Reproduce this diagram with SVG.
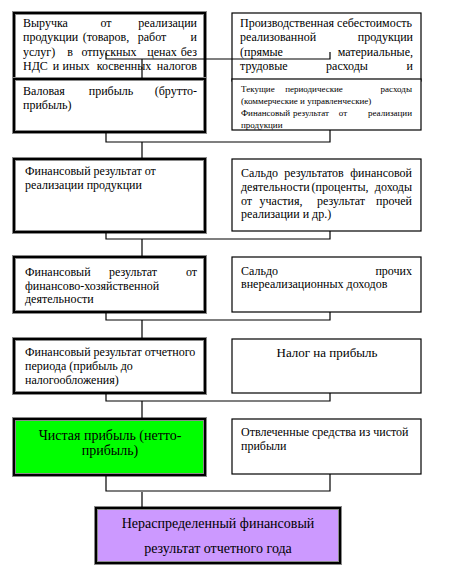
<svg xmlns="http://www.w3.org/2000/svg" width="453" height="586" viewBox="0 0 453 586">
<style>
.t{font-family:"Liberation Serif","Times New Roman",serif;font-size:12px;fill:#000}
.s{font-family:"Liberation Serif","Times New Roman",serif;font-size:9px;fill:#000}
.e{text-anchor:end}
.m{text-anchor:middle}
.thkO{fill:none;stroke:#8a8a8a;stroke-width:4}
.thkI{fill:none;stroke:#000;stroke-width:2}
.thin{fill:#fff;stroke:#000;stroke-width:1.2}
.w{fill:#fff}
.c{fill:none;stroke:#000;stroke-width:1.2}
</style>
<rect width="453" height="586" fill="#fff"/>

<g id="n1">
<rect class="w" x="14" y="13" width="191" height="68"/>
<rect class="thkO" x="14" y="13" width="191" height="68"/>
<rect class="thkI" x="14" y="13" width="191" height="68"/>
<text class="t" y="27"><tspan x="23">Выручка</tspan><tspan x="106" class="m">от</tspan><tspan x="197" class="e">реализации</tspan></text>
<text class="t" y="41"><tspan x="23">продукции</tspan><tspan x="106" class="m">(товаров,</tspan><tspan x="152" class="m">работ</tspan><tspan x="197" class="e">и</tspan></text>
<text class="t" y="56"><tspan x="23">услуг)</tspan><tspan x="70" class="m">в</tspan><tspan x="109" class="m">отпускных</tspan><tspan x="162" class="m">ценах</tspan><tspan x="197" class="e">без</tspan></text>
<text class="t" y="70"><tspan x="23">НДС</tspan><tspan x="56" class="m">и</tspan><tspan x="76" class="m">иных</tspan><tspan x="124" class="m">косвенных</tspan><tspan x="197" class="e">налогов</tspan></text>
</g>

<g id="r1">
<rect class="thin" x="232" y="13" width="189" height="68"/>
<text class="t" y="27" textLength="172" lengthAdjust="spacing"><tspan x="240">Производственная себестоимость</tspan></text>
<text class="t" y="41"><tspan x="240">реализованной</tspan><tspan x="413" class="e">продукции</tspan></text>
<text class="t" y="56"><tspan x="240">(прямые</tspan><tspan x="413" class="e">материальные,</tspan></text>
<text class="t" y="70"><tspan x="240">трудовые</tspan><tspan x="347" class="m">расходы</tspan><tspan x="413" class="e">и</tspan></text>
</g>

<g id="n2">
<rect class="w" x="14" y="79" width="191" height="53"/>
<rect class="thkO" x="14" y="79" width="191" height="53"/>
<rect class="thkI" x="14" y="79" width="191" height="53"/>
<text class="t" y="95"><tspan x="23">Валовая</tspan><tspan x="111" class="m">прибыль</tspan><tspan x="197" class="e">(брутто-</tspan></text>
<text class="t" y="109"><tspan x="23">прибыль)</tspan></text>
</g>

<g id="r2">
<rect class="thin" x="232" y="79" width="189" height="51"/>
<text class="s" y="92"><tspan x="241">Текущие</tspan><tspan x="314" class="m">периодические</tspan><tspan x="412" class="e">расходы</tspan></text>
<text class="s" y="104"><tspan x="241">(коммерческие и управленческие)</tspan></text>
<text class="s" y="116"><tspan x="241">Финансовый</tspan><tspan x="311" class="m">результат</tspan><tspan x="343" class="m">от</tspan><tspan x="412" class="e">реализации</tspan></text>
<text class="s" y="128"><tspan x="241">продукции</tspan></text>
</g>

<g id="n3">
<rect class="w" x="14" y="159" width="191" height="73"/>
<rect class="thkO" x="14" y="159" width="191" height="73"/>
<rect class="thkI" x="14" y="159" width="191" height="73"/>
<text class="t" x="25" y="175">Финансовый результат от</text>
<text class="t" x="25" y="189">реализации продукции</text>
</g>

<g id="r3">
<rect class="thin" x="232" y="159" width="189" height="72"/>
<text class="t" y="177"><tspan x="241">Сальдо</tspan><tspan x="314" class="m">результатов</tspan><tspan x="412" class="e">финансовой</tspan></text>
<text class="t" y="191"><tspan x="241">деятельности</tspan><tspan x="340" class="m">(проценты,</tspan><tspan x="412" class="e">доходы</tspan></text>
<text class="t" y="205"><tspan x="241">от</tspan><tspan x="281" class="m">участия,</tspan><tspan x="341" class="m">результат</tspan><tspan x="412" class="e">прочей</tspan></text>
<text class="t" y="218"><tspan x="241">реализации и др.)</tspan></text>
</g>

<g id="n4">
<rect class="w" x="14" y="257" width="191" height="55"/>
<rect class="thkO" x="14" y="257" width="191" height="55"/>
<rect class="thkI" x="14" y="257" width="191" height="55"/>
<text class="t" y="276"><tspan x="25">Финансовый</tspan><tspan x="133" class="m">результат</tspan><tspan x="197" class="e">от</tspan></text>
<text class="t" x="25" y="290">финансово-хозяйственной</text>
<text class="t" x="25" y="303">деятельности</text>
</g>

<g id="r4">
<rect class="thin" x="232" y="257" width="189" height="55"/>
<text class="t" y="275"><tspan x="241">Сальдо</tspan><tspan x="412" class="e">прочих</tspan></text>
<text class="t" x="241" y="288">внереализационных доходов</text>
</g>

<g id="n5">
<rect class="w" x="14" y="339" width="191" height="54"/>
<rect class="thkO" x="14" y="339" width="191" height="54"/>
<rect class="thkI" x="14" y="339" width="191" height="54"/>
<text class="t" x="25" y="356">Финансовый результат отчетного</text>
<text class="t" x="25" y="370">периода (прибыль до</text>
<text class="t" x="25" y="384">налогообложения)</text>
</g>

<g id="r5">
<rect class="thin" x="232" y="339" width="189" height="54"/>
<text class="t m" x="327" y="357" style="font-size:13px">Налог на прибыль</text>
</g>

<g id="n6">
<rect x="14" y="419" width="191" height="56" fill="#00ff00"/>
<rect class="thkO" x="14" y="419" width="191" height="56"/>
<rect class="thkI" x="14" y="419" width="191" height="56"/>
<text class="t m" x="110" y="440" style="font-size:14px">Чистая прибыль (нетто-</text>
<text class="t m" x="110" y="455" style="font-size:14px">прибыль)</text>
</g>

<g id="r6">
<rect class="thin" x="232" y="419" width="189" height="55"/>
<text class="t" x="241" y="436">Отвлеченные средства из чистой</text>
<text class="t" x="241" y="450">прибыли</text>
</g>

<g id="n7">
<rect x="96" y="508" width="244" height="55" fill="#cc99ff"/>
<rect class="thkO" x="96" y="508" width="244" height="55"/>
<rect class="thkI" x="96" y="508" width="244" height="55"/>
<text class="t m" x="218" y="528" style="font-size:14px">Нераспределенный финансовый</text>
<text class="t m" x="218" y="553" style="font-size:14px">результат отчетного года</text>
</g>

<g id="connectors">
<path class="c" d="M106,53 V59 H330 V52 M142,59 V79"/>
<path class="c" d="M106,133 V142 H330 V130 M142,142 V158"/>
<path class="c" d="M106,233 V239 H330 V231 M142,239 V256"/>
<path class="c" d="M106,313 V320 H330 V312 M142,320 V338"/>
<path class="c" d="M106,394 V401 H330 V393 M142,401 V418"/>
<path class="c" d="M106,476 V491 H330 V474 M142,492 V507"/>
</g>
</svg>
